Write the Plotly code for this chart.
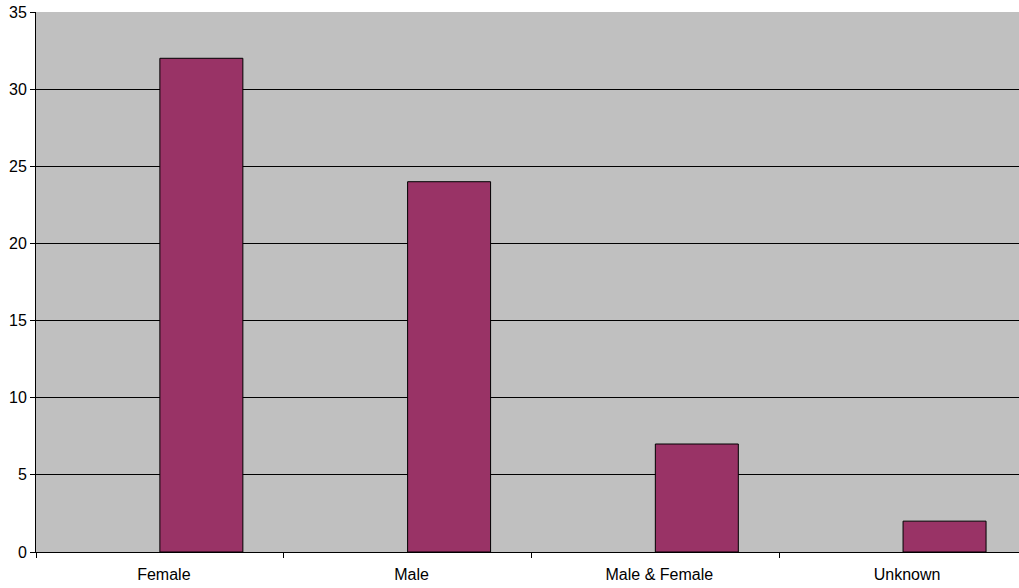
import plotly.graph_objects as go

categories = ["Female", "Male", "Male & Female", "Unknown"]
values = [32, 24, 7, 2]
y_ticks = [0, 5, 10, 15, 20, 25, 30, 35]

fig = go.Figure()
fig.add_trace(go.Bar(
    x=categories, y=values,
    width=0.335, offset=0,
    marker=dict(color="#993366", line=dict(color="#000000", width=1)),
))

fig.update_layout(
    width=1019, height=588,
    margin=dict(l=36, r=0, t=12, b=36),
    paper_bgcolor="#FFFFFF", plot_bgcolor="#C0C0C0",
    showlegend=False,
    font=dict(family="Liberation Sans, Arial, sans-serif", size=16, color="#000000"),
)
fig.update_xaxes(
    type="category", range=[-0.5, 3.468],
    tickson="boundaries", ticks="outside", ticklen=5, tickcolor="#000000",
    ticklabelstandoff=8, ticklabelshift=4,
    showgrid=False, showline=True, linecolor="#000000", linewidth=1,
    zeroline=False, fixedrange=True,
)
fig.update_yaxes(
    range=[0, 35], tickvals=y_ticks, ticktext=[str(v) for v in y_ticks],
    ticks="outside", ticklen=5, tickcolor="#000000",
    showgrid=True, gridcolor="#000000", gridwidth=1,
    showline=True, linecolor="#000000", linewidth=1,
    zeroline=False, fixedrange=True,
)

fig.write_html("out.html")
